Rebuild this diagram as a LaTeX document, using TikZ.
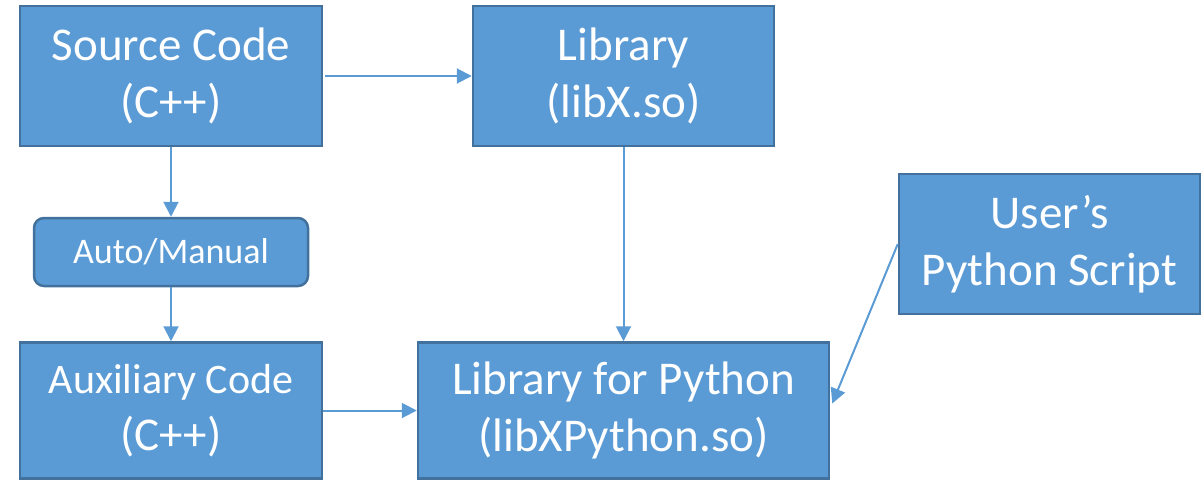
\documentclass[tikz,border=0pt]{standalone}
\usepackage{fontspec}
\setmainfont{Carlito}
\usetikzlibrary{arrows.meta}
\definecolor{boxfill}{HTML}{5B9BD5}
\definecolor{boxline}{HTML}{41719C}
\definecolor{arrowcol}{HTML}{5B9BD5}
\begin{document}
\begin{tikzpicture}[x=1pt,y=-1pt,
  blk/.style={draw=boxline, line width=2.5pt, fill=boxfill, text=white, align=center,
    inner sep=0pt, font=\fontsize{47}{57}\selectfont},
  smallblk/.style={blk, rounded corners=10pt, font=\fontsize{36}{43}\selectfont},
  conn/.style={draw=arrowcol, line width=2pt, -{Triangle[length=15pt,width=15pt]}}]
\useasboundingbox (0,0) rectangle (1201,480);
\node[blk, minimum width=302pt, minimum height=140pt] (src) at (171,76) {Source Code\\(C++)};
\node[blk, minimum width=301pt, minimum height=140pt] (lib) at (623.5,76) {Library\\(libX.so)};
\node[smallblk, minimum width=274pt, minimum height=68pt] (auto) at (171,252) {Auto/Manual};
\node[blk, minimum width=302pt, minimum height=136pt] (aux) at (171,410.5) {{\fontsize{42}{57}\selectfont Auxiliary Code}\\(C++)};
\node[blk, minimum width=411pt, minimum height=136pt] (libpy) at (623.5,410.5) {Library for Python\\(libXPython.so)};
\node[blk, minimum width=301pt, minimum height=140pt] (user) at (1049.5,244) {User’s\\Python Script};
\draw[conn] ([xshift=2pt]src.east) -- (lib.west);
\draw[conn] (src.south) -- (auto.north);
\draw[conn] (auto.south) -- (aux.north);
\draw[conn] (lib.south) -- (libpy.north);
\draw[conn] (aux.east) -- (libpy.west);
\draw[conn] (user.west) -- ([shift={(2pt,7pt)}]libpy.east);
\end{tikzpicture}
\end{document}
